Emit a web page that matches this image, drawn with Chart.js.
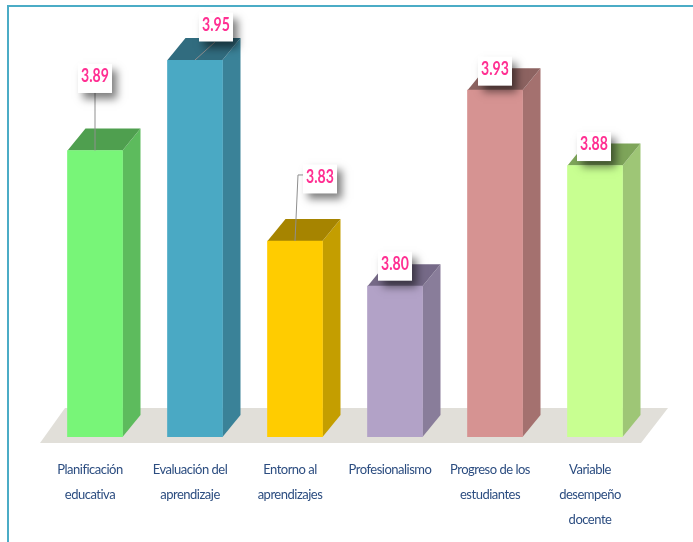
<!DOCTYPE html>
<html>
<head>
<meta charset="utf-8">
<title>Variable desempeño docente</title>
<script src="https://cdn.jsdelivr.net/npm/chart.js@4"></script>
<style>
  html, body { margin: 0; padding: 0; background: #fff; overflow: hidden; }
  #wrap { position: relative; width: 693px; height: 542px; }
  #frame { position: absolute; left: 7px; top: 5px; right: 0; bottom: 0;
           border-left: 2px solid #4bacc6; border-top: 2px solid #4bacc6; }
  canvas { position: absolute; left: 0; top: 0; }
</style>
</head>
<body>
<div id="wrap">
  <div id="frame"></div>
  <canvas id="chart" width="693" height="542"></canvas>
</div>
<script>
  // -------------------------
  // Data
  // -------------------------
  const categories = [
    ["Planificación", "educativa"],
    ["Evaluación del", "aprendizaje"],
    ["Entorno al", "aprendizajes"],
    ["Profesionalismo"],
    ["Progreso de los", "estudiantes"],
    ["Variable", "desempeño", "docente"]
  ];
  const values = [3.89, 3.95, 3.83, 3.80, 3.93, 3.88];

  // Colours per bar: front, side, top
  const frontColors = ["#78f578", "#4aa9c4", "#ffcc00", "#b2a2c7", "#d69392", "#c8ff91"];
  const sideColors = ["#5dbb5d", "#3a8298", "#c49e00", "#897d9a", "#a4716f", "#9ec676"];
  const topColors = ["#4f9f4f", "#316c7f", "#a68400", "#766a88", "#8d6361", "#7ea55a"];

  // Callouts, as offsets from the top centre of each bar
  const calloutBoxes = [
    { dx: 0, dy: -74 },
    { dx: 21, dy: -35 },
    { dx: 25, dy: -64 },
    { dx: 0, dy: -22 },
    { dx: 0, dy: -21 },
    { dx: -1, dy: -21 }
  ];
  const leaderLines = [
    [[0, -58], [0, 0]],
    [[20, -18], [0, 0]],
    [[8, -66], [3, -66], [0, 0]],
    null,
    null,
    null
  ];

  const depthX = 18;
  const depthY = -22;

  // -------------------------
  // 3D faces, drawn behind the bars
  // -------------------------
  function poly(ctx, pts, fill) {
    ctx.beginPath();
    pts.forEach(([x, y], i) => i ? ctx.lineTo(x, y) : ctx.moveTo(x, y));
    ctx.closePath();
    ctx.fillStyle = fill;
    ctx.fill();
  }

  const bars3d = {
    id: "bars3d",
    beforeDraw(chart) {
      // tighter tick labels, the original font is a condensed one
      chart.ctx.letterSpacing = "-0.5px";
    },
    beforeDatasetsDraw(chart) {
      const ctx = chart.ctx;
      const area = chart.chartArea;
      ctx.letterSpacing = "0px";
      ctx.save();
      // floor
      poly(ctx, [
        [area.left - 5, area.bottom + 6],
        [area.left + 20, area.bottom - 29],
        [area.right + 23, area.bottom - 29],
        [area.right - 4, area.bottom + 6]
      ], "#e1dfd9");

      chart.getDatasetMeta(0).data.forEach((bar, i) => {
        const left = bar.x - bar.width / 2;
        const right = bar.x + bar.width / 2;
        poly(ctx, [
          [right, bar.y], [right + depthX, bar.y + depthY],
          [right + depthX, area.bottom + depthY], [right, area.bottom]
        ], sideColors[i]);
        poly(ctx, [
          [left, bar.y], [left + depthX, bar.y + depthY],
          [right + depthX, bar.y + depthY], [right, bar.y]
        ], topColors[i]);
      });
      ctx.restore();
    },
    afterDatasetsDraw(chart) {
      const ctx = chart.ctx;
      const bars = chart.getDatasetMeta(0).data;
      ctx.save();

      // leader lines
      bars.forEach((bar, i) => {
        if (!leaderLines[i]) return;
        ctx.beginPath();
        leaderLines[i].forEach(([dx, dy], k) => {
          k ? ctx.lineTo(bar.x + dx, bar.y + dy) : ctx.moveTo(bar.x + dx, bar.y + dy);
        });
        ctx.strokeStyle = "#8f8f8f";
        ctx.lineWidth = 1;
        ctx.stroke();
      });

      // label boxes with drop shadow
      bars.forEach((bar, i) => {
        const cx = bar.x + calloutBoxes[i].dx;
        const cy = bar.y + calloutBoxes[i].dy;
        ctx.save();
        ctx.shadowColor = "rgba(0,0,0,0.5)";
        ctx.shadowBlur = 8;
        ctx.shadowOffsetX = 5;
        ctx.shadowOffsetY = 6;
        ctx.fillStyle = "#fff";
        ctx.fillRect(cx - 17, cy - 12.5, 34, 29);
        ctx.restore();

        // squeezed sideways to get the narrow look of the original
        ctx.save();
        ctx.translate(cx, cy);
        ctx.scale(0.78, 1);
        ctx.fillStyle = "#ff2f92";
        ctx.font = "bold 18px Lato, 'Open Sans', sans-serif";
        ctx.textAlign = "center";
        ctx.textBaseline = "middle";
        ctx.fillText(values[i].toFixed(2), 0, 0);
        ctx.restore();
      });
      ctx.restore();
    }
  };

  // -------------------------
  // Chart
  // -------------------------
  new Chart(document.getElementById("chart"), {
    type: "bar",
    data: {
      labels: categories,
      datasets: [{
        data: values,
        backgroundColor: frontColors,
        barThickness: 55
      }]
    },
    options: {
      responsive: false,
      animation: false,
      layout: { padding: { left: 45, right: 48, top: 60, bottom: 0 } },
      plugins: { legend: { display: false }, tooltip: { enabled: false } },
      scales: {
        x: {
          grid: { display: false },
          border: { display: false },
          afterFit(scale) { scale.height = 105; },
          ticks: {
            autoSkip: false,
            maxRotation: 0,
            labelOffset: -5,
            padding: 12,
            color: "#2c4d80",
            font: { family: "Lato, 'Open Sans', sans-serif", size: 13, lineHeight: 25 / 13 }
          }
        },
        y: { display: false, min: 3.70, max: 3.95 }
      }
    },
    plugins: [bars3d]
  });
</script>
</body>
</html>
